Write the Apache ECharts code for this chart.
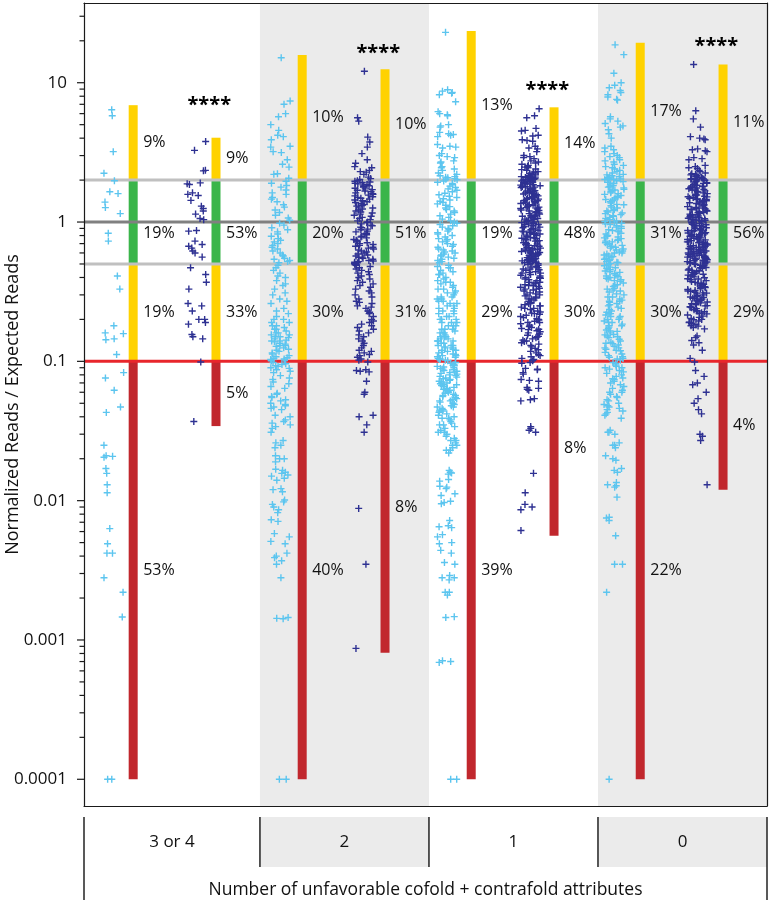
<!DOCTYPE html>
<html><head><meta charset="utf-8">
<script src="https://cdn.jsdelivr.net/npm/echarts@6/dist/echarts.min.js"></script>
<style>html,body{margin:0;padding:0;background:#fff}#c{width:771px;height:903px}</style>
</head><body><div id="c"></div>
<script>
// ---------------- DATA ----------------
const groups = ['3 or 4', '2', '1', '0'];
const xTitle = 'Number of unfavorable cofold + contrafold attributes';
const yTitle = 'Normalized Reads / Expected Reads';
const thresholds = [2, 0.5, 0.1];          // bar segment boundaries
const refLines = [2, 1, 0.5, 0.1];          // horizontal reference lines
const barTopLight = [6.9, 15.8, 23.5, 19.4];
const barBottomLight = [0.0001, 0.0001, 0.0001, 0.0001];
const barTopDark = [4.03, 12.5, 6.66, 13.5];
const barBottomDark = [0.0343, 0.00081, 0.0056, 0.012];
const pctLight = [[9, 19, 19, 53], [10, 20, 30, 40], [13, 19, 29, 39], [17, 31, 30, 22]];
const pctDark = [[9, 53, 33, 5], [10, 51, 31, 8], [14, 48, 30, 8], [11, 56, 29, 4]];
const sigLabel = ['****', '****', '****', '****'];
const sigY = [7.5, 17.7, 9.6, 19.9];
const yTickLabels = [0.0001, 0.001, 0.01, 0.1, 1, 10];

const light_3or4 = [6.4,5.8,3.2,2.24,1.98,1.65,1.6,1.39,1.27,1.15,0.83,0.73,0.41,0.33,0.18,0.16,0.158,0.145,0.143,0.112,0.083,0.076,0.062,0.047,0.043,0.025,0.021,0.0208,0.0205,0.017,0.0157,0.013,0.0114,0.0063,0.0049,0.0042,0.0042,0.0028,0.0022,0.00146,0.0001,0.0001];
const dark_3or4 = [3.79,3.27,2.35,2.33,1.91,1.88,1.86,1.62,1.58,1.55,1.43,1.3,1.25,1.2,1.14,1.06,1.04,0.87,0.86,0.73,0.69,0.67,0.65,0.62,0.6,0.56,0.47,0.42,0.37,0.33,0.26,0.25,0.23,0.2,0.2,0.19,0.185,0.156,0.15,0.145,0.099,0.037];

const light_2 = [15.1,7.4,7.0,6.0,5.7,5.0,4.55,4.2,4.1,3.9,3.5,3.45,3.2,3.15,2.8,2.6,2.48,2.22,2.2,2.06,
1.96,1.9,1.83,1.78,1.7,1.62,1.58,1.5,1.46,1.4,1.33,1.28,1.22,1.17,1.12,1.07,1.03,0.98,0.95,0.91,0.88,0.85,0.82,0.79,0.76,0.74,0.72,0.7,0.68,0.66,0.64,0.62,0.6,0.58,0.57,0.55,0.54,0.53,0.52,0.51,
0.49,0.47,0.45,0.43,0.41,0.4,0.38,0.36,0.35,0.33,0.31,0.3,0.28,0.27,0.26,0.24,0.23,0.22,0.21,0.2,0.2,0.19,0.19,0.18,0.18,0.175,0.17,0.17,0.165,0.16,0.16,0.155,0.155,0.15,0.15,0.148,0.145,0.142,0.14,0.14,0.138,0.135,0.133,0.13,0.13,0.128,0.125,0.122,0.12,0.118,0.115,0.113,0.11,0.108,0.106,0.105,0.104,0.103,0.102,0.101,
0.098,0.096,0.095,0.093,0.092,0.09,0.089,0.087,0.085,0.083,0.079,0.076,0.074,0.071,0.069,0.066,0.064,0.059,0.058,0.056,0.055,0.053,0.052,0.05,0.049,0.048,0.047,0.046,0.045,0.041,0.04,0.038,0.037,0.036,0.035,0.034,0.033,0.031,0.027,0.026,0.025,0.024,0.021,0.02,0.02,0.019,0.0168,0.0165,0.016,0.0157,0.0153,0.015,0.0145,0.014,0.0122,0.012,0.0116,0.0101,0.0098,0.0094,0.009,0.0086,0.0082,0.0073,0.0071,0.0058,0.0055,0.0051,0.0049,0.0042,0.004,0.0039,0.0037,0.0035,0.0028,0.00145,0.00143,0.00142,0.0001,0.0001];
const dark_2 = [12.1,5.6,5.3,4.07,3.75,3.45,3.1,2.8,2.64,2.5,2.45,2.35,2.3,2.28,2.2,2.1,2.05,2.02,
1.98,1.96,1.94,1.92,1.9,1.88,1.86,1.84,1.82,1.8,1.78,1.75,1.73,1.71,1.69,1.67,1.65,1.62,1.6,1.58,1.56,1.54,1.52,1.5,1.48,1.46,1.44,1.42,1.4,1.38,1.36,1.34,1.32,1.3,1.28,1.26,1.24,1.22,1.2,1.18,1.16,1.14,1.12,1.1,1.08,1.06,1.04,1.02,1.0,0.99,0.97,0.95,0.94,0.92,0.91,0.89,0.88,0.86,0.85,0.83,0.82,0.81,0.79,0.78,0.77,0.75,0.74,0.73,0.72,0.71,0.7,0.69,0.68,0.67,0.66,0.65,0.64,0.63,0.62,0.61,0.6,0.59,0.58,0.57,0.56,0.555,0.55,0.54,0.53,0.525,0.52,0.515,0.51,0.505,
0.495,0.49,0.48,0.47,0.46,0.45,0.44,0.43,0.42,0.41,0.4,0.39,0.38,0.37,0.36,0.35,0.34,0.33,0.32,0.31,0.3,0.29,0.28,0.27,0.265,0.26,0.25,0.245,0.24,0.23,0.225,0.22,0.21,0.2,0.195,0.19,0.185,0.18,0.175,0.17,0.165,0.16,0.155,0.15,0.145,0.14,0.135,0.13,0.125,0.12,0.118,0.115,0.112,0.11,0.107,0.104,0.102,
0.099,0.087,0.086,0.085,0.084,0.072,0.06,0.058,0.041,0.04,0.035,0.031,0.0088,0.0035,0.00087];

const light_1 = [23,8.9,8.7,8.5,8.4,8.2,7.3,6.2,6.0,5.9,5.8,5.0,4.9,4.8,4.4,4.3,4.25,4.2,4.1,3.6,3.5,3.45,3.4,3.1,3.0,2.95,2.9,2.75,2.7,2.65,2.5,2.45,2.4,2.35,2.25,2.2,2.15,2.12,2.1,2.08,2.05,2.03,2.01,
1.97,1.93,1.89,1.85,1.81,1.77,1.73,1.69,1.65,1.61,1.57,1.53,1.5,1.47,1.44,1.41,1.38,1.35,1.32,1.29,1.26,1.23,1.2,1.17,1.14,1.11,1.08,1.05,1.02,1.0,0.98,0.96,0.94,0.92,0.9,0.88,0.86,0.84,0.82,0.8,0.78,0.76,0.75,0.73,0.72,0.7,0.69,0.67,0.66,0.64,0.63,0.62,0.61,0.6,0.59,0.58,0.57,0.56,0.55,0.54,0.53,0.52,0.51,
0.49,0.48,0.47,0.47,0.45,0.44,0.43,0.42,0.42,0.4,0.39,0.38,0.37,0.37,0.36,0.35,0.34,0.33,0.33,0.32,0.31,0.31,0.3,0.29,0.29,0.28,0.28,0.27,0.27,0.26,0.26,0.25,0.25,0.24,0.24,0.23,0.23,0.22,0.22,0.21,0.21,0.2,0.2,0.2,0.19,0.19,0.19,0.18,0.18,0.18,0.17,0.17,0.17,0.165,0.16,0.16,0.16,0.155,0.15,0.15,0.15,0.145,0.145,0.14,0.14,0.14,0.135,0.135,0.13,0.13,0.13,0.127,0.125,0.125,0.122,0.12,0.12,0.118,0.116,0.115,0.113,0.112,0.11,0.11,0.108,0.107,0.105,0.104,0.103,0.102,0.101,
0.098,0.097,0.095,0.094,0.093,0.092,0.091,0.09,0.089,0.088,0.087,0.086,0.085,0.084,0.083,0.082,0.081,0.08,0.079,0.078,0.077,0.076,0.075,0.074,0.073,0.072,0.071,0.07,0.069,0.068,0.068,0.067,0.066,0.065,0.064,0.063,0.062,0.062,0.061,0.06,0.059,0.058,0.057,0.057,0.056,0.055,0.054,0.053,0.052,0.052,0.051,0.05,0.049,0.048,0.047,0.047,0.046,0.045,0.044,0.044,0.043,0.042,0.041,0.04,0.039,0.039,0.038,0.037,0.036,0.035,0.035,0.034,0.033,0.032,0.031,0.031,0.03,0.029,0.028,0.027,0.027,0.026,0.025,0.025,0.024,0.023,0.023,0.022,
0.0165,0.016,0.0158,0.0155,0.0142,0.0138,0.0127,0.0125,0.0122,0.0112,0.0109,0.0099,0.0097,0.0095,0.0072,0.0066,0.0065,0.0064,0.0057,0.0055,0.005,0.0049,0.0044,0.0042,0.0036,0.0035,0.0029,0.0028,0.0028,0.0027,0.0022,0.0022,0.0021,0.00147,0.00145,0.00071,0.0007,0.00069,0.0001,0.0001];
const dark_1 = [6.5,5.8,5.6,4.7,4.55,4.5,4.2,4.15,3.9,3.85,3.8,3.5,3.4,3.35,3.2,3.0,2.95,2.9,2.85,2.75,2.7,2.65,2.6,2.55,2.5,2.48,2.45,2.4,2.38,2.35,2.3,2.28,2.25,2.22,2.2,2.18,2.15,2.13,2.12,2.1,2.09,2.08,2.06,2.05,2.04,2.03,2.02,2.01,2.005,
1.99,1.97,1.96,1.94,1.92,1.91,1.89,1.87,1.85,1.84,1.82,1.8,1.79,1.77,1.75,1.73,1.72,1.7,1.68,1.67,1.65,1.63,1.62,1.6,1.59,1.57,1.55,1.54,1.52,1.51,1.49,1.48,1.46,1.45,1.43,1.42,1.4,1.39,1.37,1.36,1.35,1.33,1.32,1.3,1.29,1.28,1.26,1.25,1.24,1.22,1.21,1.2,1.19,1.17,1.16,1.15,1.14,1.12,1.11,1.1,1.09,1.08,1.07,1.06,1.04,1.03,1.02,1.01,1.0,0.99,0.98,0.97,0.96,0.95,0.94,0.93,0.92,0.91,0.9,0.89,0.88,0.87,0.86,0.85,0.84,0.83,0.82,0.815,0.805,0.8,0.79,0.78,0.775,0.765,0.76,0.75,0.745,0.735,0.73,0.72,0.715,0.71,0.7,0.695,0.69,0.68,0.675,0.67,0.66,0.655,0.65,0.645,0.64,0.635,0.63,0.625,0.62,0.615,0.61,0.605,0.6,0.595,0.59,0.585,0.58,0.575,0.57,0.565,0.56,0.555,0.55,0.546,0.542,0.538,0.534,0.53,0.526,0.522,0.518,0.514,0.51,0.506,0.502,1.93,1.78,1.64,1.5,1.38,1.27,1.18,1.05,0.96,0.86,0.77,0.68,0.6,
0.495,0.49,0.48,0.475,0.47,0.46,0.455,0.45,0.44,0.435,0.43,0.42,0.415,0.41,0.4,0.395,0.39,0.385,0.38,0.37,0.365,0.36,0.355,0.35,0.345,0.34,0.335,0.33,0.325,0.32,0.315,0.31,0.305,0.3,0.295,0.29,0.285,0.28,0.275,0.27,0.265,0.26,0.255,0.25,0.245,0.24,0.235,0.23,0.226,0.222,0.218,0.214,0.21,0.206,0.202,0.198,0.194,0.19,0.186,0.182,0.178,0.175,0.172,0.169,0.166,0.163,0.16,0.157,0.154,0.151,0.148,0.145,0.142,0.139,0.136,0.133,0.13,0.127,0.124,0.121,0.118,0.115,0.112,0.11,0.108,0.105,0.103,0.101,0.46,0.4,0.35,0.3,0.28,0.25,0.22,0.2,0.17,0.15,0.14,0.26,0.19,0.33,0.37,0.43,0.24,
0.098,0.097,0.089,0.088,0.087,0.083,0.081,0.074,0.073,0.072,0.065,0.064,0.063,0.062,0.054,0.053,0.052,0.034,0.033,0.032,0.031,0.0157,0.0114,0.0094,0.009,0.0086,0.0061];

const light_0 = [18.7,15.9,11.7,10.0,9.6,9.2,8.8,8.5,8.2,7.9,7.6,7.5,5.7,5.5,5.3,5.1,4.9,4.8,4.6,4.3,4.0,3.5,3.4,3.3,3.2,3.1,3.0,2.95,2.9,2.8,2.75,2.7,2.6,2.55,2.5,2.45,2.4,2.35,2.3,2.25,2.2,2.18,2.15,2.12,2.1,2.08,2.06,2.04,2.03,2.02,2.01,
1.98,1.95,1.9,1.87,1.83,1.8,1.76,1.72,1.69,1.65,1.62,1.58,1.55,1.52,1.49,1.46,1.43,1.4,1.37,1.34,1.31,1.28,1.26,1.23,1.2,1.18,1.15,1.13,1.1,1.08,1.06,1.04,1.02,1.0,0.98,0.96,0.94,0.92,0.9,0.88,0.87,0.85,0.83,0.82,0.8,0.78,0.77,0.75,0.74,0.72,0.71,0.7,0.68,0.67,0.66,0.64,0.63,0.62,0.61,0.6,0.59,0.58,0.57,0.56,0.55,0.54,0.53,0.52,0.51,0.505,1.93,1.78,1.6,1.45,1.33,1.21,1.11,1.01,0.93,0.86,0.79,0.73,0.69,0.65,0.6,0.565,0.535,0.515,1.7,1.5,1.16,0.97,0.76,
0.495,0.485,0.475,0.465,0.455,0.445,0.435,0.425,0.415,0.405,0.395,0.385,0.375,0.365,0.355,0.345,0.335,0.325,0.315,0.305,0.3,0.29,0.28,0.275,0.27,0.26,0.255,0.25,0.24,0.235,0.23,0.225,0.22,0.215,0.21,0.205,0.2,0.195,0.19,0.185,0.18,0.176,0.172,0.168,0.164,0.16,0.156,0.152,0.148,0.144,0.14,0.137,0.134,0.131,0.128,0.125,0.122,0.119,0.116,0.113,0.11,0.107,0.104,0.102,0.47,0.44,0.41,0.38,0.35,0.32,0.29,0.265,0.245,0.22,0.2,0.18,0.165,0.15,0.135,0.12,0.108,0.4,0.33,0.27,0.19,0.155,0.125,0.105,0.39,0.21,
0.098,0.096,0.094,0.092,0.09,0.088,0.086,0.084,0.082,0.08,0.078,0.076,0.074,0.072,0.07,0.068,0.066,0.064,0.062,0.06,0.058,0.056,0.055,0.053,0.052,0.05,0.049,0.047,0.046,0.045,0.044,0.043,0.042,0.041,0.09,0.075,0.06,0.048,
0.039,0.032,0.031,0.031,0.03,0.026,0.025,0.025,0.024,0.021,0.02,0.0195,0.017,0.0165,0.016,0.0135,0.013,0.0128,0.0125,0.0106,0.0076,0.0075,0.0072,0.0056,0.0035,0.0035,0.0022,0.0001];
const dark_0 = [13.5,6.3,5.5,4.8,4.1,4.0,3.95,3.9,3.35,3.3,3.25,3.2,2.9,2.85,2.8,2.55,2.5,2.45,2.42,2.35,2.3,2.25,2.22,2.2,2.18,2.15,2.13,2.11,2.1,2.08,2.06,2.05,2.04,2.03,2.02,2.01,
1.995,1.975,1.955,1.935,1.915,1.895,1.875,1.855,1.835,1.815,1.795,1.775,1.755,1.735,1.715,1.695,1.675,1.655,1.64,1.62,1.6,1.585,1.565,1.55,1.53,1.515,1.5,1.48,1.465,1.45,1.435,1.42,1.405,1.39,1.375,1.36,1.345,1.33,1.315,1.3,1.29,1.275,1.26,1.25,1.235,1.225,1.21,1.2,1.185,1.175,1.165,1.15,1.14,1.13,1.12,1.105,1.095,1.085,1.075,1.065,1.055,1.045,1.035,1.025,1.015,1.005,0.995,0.985,0.975,0.965,0.955,0.945,0.94,0.93,0.92,0.91,0.9,0.895,0.885,0.875,0.865,0.86,0.85,0.84,0.835,0.825,0.815,0.81,0.8,0.795,0.785,0.78,0.77,0.765,0.755,0.75,0.745,0.735,0.73,0.72,0.715,0.71,0.705,0.695,0.69,0.685,0.675,0.67,0.665,0.66,0.655,0.65,0.645,0.64,0.635,0.63,0.625,0.62,0.615,0.61,0.605,0.6,0.595,0.59,0.585,0.58,0.576,0.572,0.568,0.564,0.56,0.556,0.552,0.548,0.544,0.54,0.536,0.532,0.528,0.524,0.52,0.516,0.512,0.508,0.504,0.501,1.9,1.7,1.52,1.37,1.24,1.13,1.03,0.95,0.87,0.79,0.72,0.66,0.6,0.55,0.51,1.81,1.45,1.08,0.83,0.64,
0.497,0.49,0.485,0.478,0.472,0.465,0.46,0.453,0.447,0.44,0.435,0.428,0.422,0.416,0.41,0.404,0.398,0.392,0.386,0.38,0.375,0.369,0.364,0.358,0.353,0.348,0.343,0.338,0.333,0.328,0.323,0.318,0.313,0.309,0.305,0.3,0.296,0.292,0.288,0.284,0.28,0.276,0.273,0.27,0.45,0.42,0.39,0.36,0.34,0.32,0.31,0.29,0.285,0.275,0.47,
0.267,0.263,0.259,0.255,0.251,0.247,0.243,0.239,0.235,0.231,0.227,0.223,0.219,0.215,0.211,0.207,0.203,0.199,0.195,0.191,0.187,0.183,0.179,0.175,0.171,0.26,0.245,0.23,0.22,0.2,0.19,0.18,0.25,
0.152,0.148,0.141,0.136,0.131,0.12,0.105,
0.099,0.086,0.078,0.07,0.068,0.06,0.054,0.05,0.045,0.042,0.03,0.029,0.027,0.013];

const lightClouds = [light_3or4, light_2, light_1, light_0];
const darkClouds = [dark_3or4, dark_2, dark_1, dark_0];

// ---------------- LAYOUT / STYLE ----------------
const X_MIN = -0.041, X_MAX = 4;
const Y_MIN = 6.43e-5, Y_MAX = 37.35;
const LIGHT_OFF = 0.25, DARK_OFF = 0.74, STAR_OFF = 0.70;
const LIGHT = '#5cc5ef', DARK = '#2e3192';
const SEG_COLORS = ['#ffd200', '#3ab54a', '#ffd200', '#c1272d'];
const REF_COLORS = ['#c0c0c0', '#808080', '#c0c0c0', '#e8262c'];
const BAND = '#ebebeb';
const FONT = 'Open Sans';
const TXT = '#111';
const PLUS = 'path://M4,0H6V4H10V6H6V10H4V6H0V4H4Z';

// bar segments
const barData = [];
groups.forEach((g, i) => {
  [[barTopLight, barBottomLight, pctLight, LIGHT_OFF], [barTopDark, barBottomDark, pctDark, DARK_OFF]].forEach(([tops, bots, pcts, off]) => {
    const edges = [tops[i], ...thresholds, bots[i]];
    for (let k = 0; k < 4; k++) barData.push([i + off, edges[k], edges[k + 1], k, pcts[i][k]]);
  });
});

// axis ticks (major + minor 2..9)
const tickData = [];
for (let e = -4; e <= 1; e++) {
  for (let m = 1; m <= 9; m++) {
    const v = m * Math.pow(10, e);
    if (v >= Y_MIN && v <= Y_MAX) tickData.push([X_MIN, v, m === 1 ? 1 : 0]);
  }
}

const cloudCats = [];
groups.forEach(g => { cloudCats.push(g + ' a'); cloudCats.push(g + ' b'); });

const lightPts = [], darkPts = [];
lightClouds.forEach((arr, i) => arr.forEach(v => lightPts.push([2 * i, v])));
darkClouds.forEach((arr, i) => arr.forEach(v => darkPts.push([2 * i + 1, v])));

const hiddenAxis = { axisLine: { show: false }, axisTick: { show: false }, axisLabel: { show: false }, splitLine: { show: false } };
const borderLine = { show: true, onZero: false, lineStyle: { color: '#1a1a1a', width: 1.2 } };

const option = {
  animation: false,
  backgroundColor: '#fff',
  grid: [
    { left: 84, right: 4, top: 3, bottom: 97, outerBoundsMode: 'none', containLabel: false },
    { left: 72, right: 32, top: 3, bottom: 97, outerBoundsMode: 'none', containLabel: false },
    { left: 84, right: 4, top: 817, height: 50, outerBoundsMode: 'none', containLabel: false }
  ],
  xAxis: [
    Object.assign({}, hiddenAxis, { gridIndex: 0, type: 'value', min: X_MIN, max: X_MAX, position: 'bottom', axisLine: borderLine, z: 10 }),
    Object.assign({}, hiddenAxis, { gridIndex: 0, type: 'value', min: X_MIN, max: X_MAX, position: 'top', axisLine: borderLine, z: 10 }),
    Object.assign({}, hiddenAxis, { gridIndex: 1, type: 'category', data: cloudCats, jitter: 20, jitterOverlap: true }),
    Object.assign({}, hiddenAxis, { gridIndex: 2, type: 'value', min: X_MIN, max: X_MAX, name: xTitle, nameLocation: 'middle', nameGap: 14,
      nameMoveOverlap: false, nameTextStyle: { fontFamily: FONT, fontSize: 17.5, color: TXT } })
  ],
  yAxis: [
    { gridIndex: 0, type: 'log', logBase: 10, min: Y_MIN, max: Y_MAX, z: 10,
      axisLine: borderLine, axisTick: { show: false }, minorTick: { show: false }, splitLine: { show: false }, minorSplitLine: { show: false },
      axisLabel: { fontFamily: FONT, fontSize: 17, color: TXT, margin: 17,
        formatter: v => { const l = Math.log10(v); const r = Math.round(l);
          return (Math.abs(l - r) < 1e-6 && yTickLabels.indexOf(Math.pow(10, r)) >= 0) ? String(+Math.pow(10, r).toPrecision(6)) : ''; } },
      name: yTitle, nameLocation: 'middle', nameGap: 62, nameMoveOverlap: false,
      nameTextStyle: { fontFamily: FONT, fontSize: 18, color: TXT } },
    Object.assign({}, hiddenAxis, { gridIndex: 0, type: 'log', min: Y_MIN, max: Y_MAX, position: 'right', axisLine: borderLine, z: 10 }),
    Object.assign({}, hiddenAxis, { gridIndex: 1, type: 'log', min: Y_MIN, max: Y_MAX }),
    Object.assign({}, hiddenAxis, { gridIndex: 2, type: 'value', min: 0, max: 1 })
  ],
  series: [
    // shaded bands
    { type: 'custom', xAxisIndex: 0, yAxisIndex: 0, z: 1, silent: true,
      data: groups.map((g, i) => [i, i + 1]).filter((d, i) => i % 2 === 1),
      encode: { x: [0, 1] },
      renderItem: (p, api) => {
        const a = api.coord([api.value(0), Y_MAX]), b = api.coord([api.value(1), Y_MIN]);
        return { type: 'rect', shape: { x: a[0], y: a[1], width: b[0] - a[0], height: b[1] - a[1] }, style: { fill: BAND } };
      } },
    // bars
    { type: 'custom', xAxisIndex: 0, yAxisIndex: 0, z: 2, silent: true,
      data: barData, dimensions: ['x', 'hi', 'lo', 'seg', 'pct'], encode: { x: 0, y: [1, 2] },
      renderItem: (p, api) => {
        const x = api.value(0), a = api.coord([x, api.value(1)]), b = api.coord([x, api.value(2)]);
        const w = 9;
        return { type: 'rect', shape: { x: a[0] - w / 2, y: a[1], width: w, height: b[1] - a[1] }, style: { fill: SEG_COLORS[api.value(3)] } };
      } },
    // reference lines
    { type: 'custom', xAxisIndex: 0, yAxisIndex: 0, z: 3, silent: true,
      data: refLines.map((v, i) => [X_MIN, v, i]), encode: { x: 0, y: 1 },
      renderItem: (p, api) => {
        const v = api.value(1), a = api.coord([X_MIN, v]), b = api.coord([X_MAX, v]);
        return { type: 'line', shape: { x1: a[0], y1: a[1], x2: b[0], y2: b[1] }, style: { stroke: REF_COLORS[api.value(2)], lineWidth: 3 } };
      } },
    // y ticks
    { type: 'custom', xAxisIndex: 0, yAxisIndex: 0, z: 10, silent: true, clip: false,
      data: tickData, encode: { x: 0, y: 1 },
      renderItem: (p, api) => {
        const a = api.coord([X_MIN, api.value(1)]);
        const len = api.value(2) ? 7 : 4.5;
        return { type: 'line', shape: { x1: a[0] - len, y1: a[1], x2: a[0], y2: a[1] }, style: { stroke: '#1a1a1a', lineWidth: 1.2 } };
      } },
    // points
    { type: 'scatter', name: 'light', xAxisIndex: 2, yAxisIndex: 2, z: 4, silent: true, symbol: PLUS, symbolSize: 7,
      itemStyle: { color: LIGHT, opacity: 1 }, data: lightPts },
    { type: 'scatter', name: 'dark', xAxisIndex: 2, yAxisIndex: 2, z: 4, silent: true, symbol: PLUS, symbolSize: 7,
      itemStyle: { color: DARK, opacity: 1 }, data: darkPts },
    // percentage labels
    { type: 'custom', xAxisIndex: 0, yAxisIndex: 0, z: 6, silent: true,
      data: barData, dimensions: ['x', 'hi', 'lo', 'seg', 'pct'], encode: { x: 0, y: [1, 2] },
      renderItem: (p, api) => {
        const x = api.value(0), a = api.coord([x, api.value(1)]), b = api.coord([x, api.value(2)]);
        const k = api.value(3);
        return { type: 'text', style: { x: a[0] + 10, y: (a[1] + b[1]) / 2 + (k === 1 ? 11 : 0), text: api.value(4) + '%',
          fill: TXT, fontFamily: FONT, fontSize: 16, align: 'left', verticalAlign: 'middle' } };
      } },
    // significance stars
    { type: 'custom', xAxisIndex: 0, yAxisIndex: 0, z: 6, silent: true,
      data: groups.map((g, i) => [i + STAR_OFF, sigY[i], i]), encode: { x: 0, y: 1 },
      renderItem: (p, api) => {
        const a = api.coord([api.value(0), api.value(1)]);
        return { type: 'text', style: { x: a[0], y: a[1] + 5, text: sigLabel[api.value(2)], fill: '#000', fontFamily: FONT, fontSize: 20, fontWeight: 'bold', align: 'center', verticalAlign: 'middle' } };
      } },
    // category table
    { type: 'custom', xAxisIndex: 3, yAxisIndex: 3, z: 2, silent: true, clip: false,
      data: groups.map((g, i) => [i, 0.5]), encode: { x: 0, y: 1 },
      renderItem: (p, api) => {
        const i = api.value(0);
        const x0 = i === 0 ? X_MIN : i, x1 = Math.min(i + 1, X_MAX);
        const a = api.coord([x0, 1]), b = api.coord([x1, 0]);
        const children = [];
        if (i % 2 === 1) children.push({ type: 'rect', shape: { x: a[0], y: a[1], width: b[0] - a[0], height: b[1] - a[1] }, style: { fill: BAND } });
        const ext = 33;
        children.push({ type: 'line', shape: { x1: a[0], y1: a[1], x2: a[0], y2: i === 0 ? b[1] + ext : b[1] }, style: { stroke: '#222', lineWidth: 1.5 } });
        if (i === groups.length - 1) children.push({ type: 'line', shape: { x1: b[0], y1: a[1], x2: b[0], y2: b[1] + ext }, style: { stroke: '#222', lineWidth: 1.5 } });
        children.push({ type: 'text', style: { x: (a[0] + b[0]) / 2, y: (a[1] + b[1]) / 2, text: groups[i], fill: TXT, fontFamily: FONT, fontSize: 17, align: 'center', verticalAlign: 'middle' } });
        return { type: 'group', children };
      } }
  ]
};

const chart = echarts.init(document.getElementById('c'), null, { renderer: 'canvas' });
chart.setOption(option);
</script>
</body></html>
